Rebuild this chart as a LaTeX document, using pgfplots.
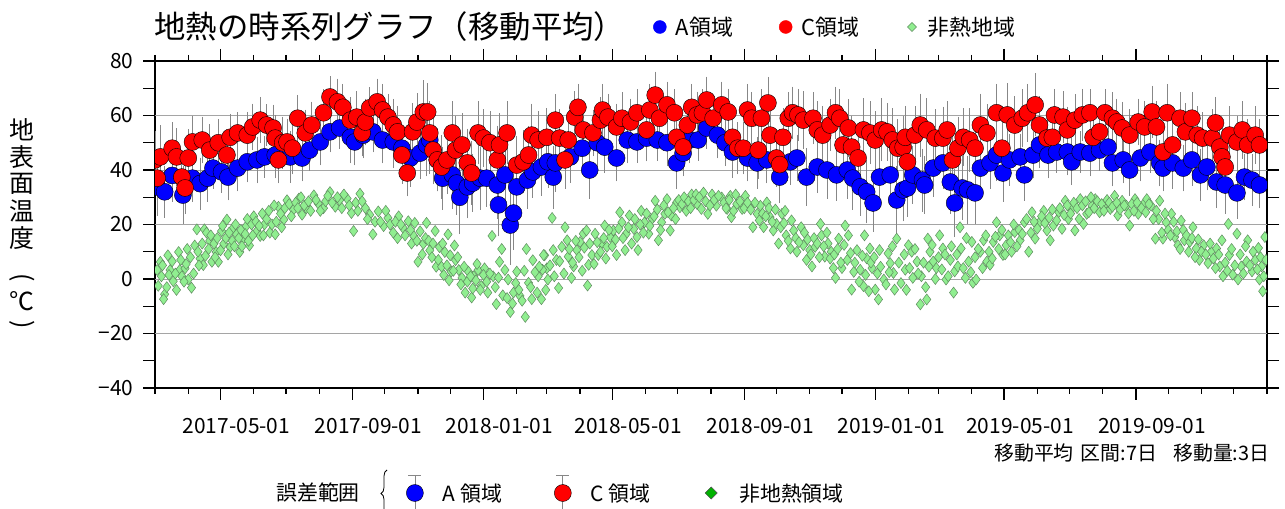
\documentclass[border=0pt]{standalone}
\usepackage{fontspec}
\setmainfont{Noto Sans CJK JP}
\usepackage{pgfplots}
\pgfplotsset{compat=1.18}
\usepackage{pgfplotstable}
\usetikzlibrary{decorations.pathreplacing}

\definecolor{ptBlue}{RGB}{0,0,255}
\definecolor{ptRed}{RGB}{255,0,0}
\definecolor{ptGreen}{RGB}{144,238,144}
\definecolor{ptGreenEdge}{RGB}{95,140,95}
\definecolor{barGray}{RGB}{135,135,135}
\definecolor{gridGray}{RGB}{165,165,165}
\newcommand\fs[1]{\fontsize{#1}{#1}\selectfont}

% d = days since 2017-03-01, v = temperature, e = error
\pgfplotstableread{
d v e
2 33.8 8
9 32 7
16 38 7
26 30.8 8
35 37 6
42 35 7
49 37 6
54 40.7 5
62 39.3 5
68 37.4 6
77 40.7 6
86 43 5
95 43.7 6
102 44.8 5
112 45.5 6
126 44.8 7
137 44.4 6
144 47.3 5
154 50.3 6
163 54 5
172 55.4 5
182 52 7
186 50.3 6
194 52.8 6
203 54 5
212 51 6
222 50.3 7
230 48 6
238 44.4 8
247 46.2 7
253 49.2 9
256 51 10
263 43.7 9
268 37 9
277 38.2 10
281 35.2 9
284 30 11
291 33.8 9
296 35.2 8
303 37 9
309 37 8
319 34.5 10
320 27.2 9
326 38.2 10
331 19.8 12
334 24.2 11
337 33.8 9
347 36.3 8
352 39.3 7
360 41.1 8
366 43 7
371 37.4 9
373 42.6 8
387 44.8 7
398 48 6
405 40 8
412 50 6
419 48.4 7
430 44.4 6
440 51 6
449 50.3 5
458 51.7 6
468 51 5
477 50 6
486 42.6 7
492 46.2 6
498 51 6
506 51 5
514 55.4 5
524 52.8 6
531 50 6
538 46.6 7
552 44.4 6
561 42.6 7
570 43.7 6
582 37.4 7
592 43 6
598 44.4 6
607 37.4 8
617 41.1 7
626 40 8
635 38.2 7
645 40 8
650 37 9
657 33.8 8
663 32 9
669 27.9 8
675 37.4 9
685 38.2 9
691 29 10
697 32.7 9
701 33.4 8
706 38.2 8
715 36.3 9
717 34.5 8
725 40.7 8
734 42.6 7
741 35.6 9
745 27.9 10
752 33.4 9
757 32.7 10
764 31.6 9
769 40.7 8
778 42.6 7
784 45.5 7
790 38.9 8
796 43.7 7
806 44.8 6
810 38.2 7
818 45.5 6
824 49.2 6
832 45.5 6
840 46.6 5
850 46.6 6
854 43 6
862 46.6 5
871 46.2 6
880 47.3 5
888 48.4 6
892 42.6 6
902 43.7 6
908 40 7
918 44.4 6
927 46.6 5
936 42.6 6
939 40.7 6
948 42.6 7
958 40.7 6
966 43.7 7
974 38.2 7
980 41.1 6
989 35.6 7
997 34.5 8
1008 31.6 7
1015 37.4 6
1022 36.3 7
1029 34.5 6
}\tblA

\pgfplotstableread{
d v e
0 43.7 8
2 37 6
5 44.8 9
16 48 7
20 44.8 8
25 37.4 7
28 33.4 7
31 44.4 8
35 50.3 7
44 51 6
51 47.3 7
59 50 6
67 45.5 6
70 52 6
77 53.6 5
86 52.8 6
91 55.8 6
98 58.3 6
104 56.5 5
110 55.4 6
112 51.7 6
115 43.7 6
119 50 7
123 50.3 6
128 48 7
133 59 6
140 53.6 6
146 56.5 6
157 61 6
163 66.8 5
170 65 6
175 63 6
182 58.3 6
188 59.4 7
193 53.6 6
196 57.6 6
200 62.8 5
207 65 6
212 62 7
217 59.4 6
222 56.5 7
226 54 7
230 45.5 8
235 38.9 6
240 54 8
244 57.6 8
250 61.3 9
254 61.3 8
256 53.6 9
259 47.3 10
263 43.7 9
267 41.1 9
272 43.7 10
277 53.6 9
280 47.3 10
286 49.2 9
291 42.6 10
295 38.9 9
301 53.6 9
306 51.7 8
312 50 9
319 43.7 10
321 49.2 9
328 53.6 9
337 41.8 8
343 43 9
348 45.5 8
351 52.8 9
357 51 8
365 52 8
373 58.3 7
377 51.7 8
382 43.7 8
385 51 7
391 59.4 7
394 63 6
399 54.7 7
408 53.6 6
415 58.3 6
417 62 7
422 59.4 6
430 55.8 6
435 59 7
443 57.6 6
449 61 6
458 54.7 6
461 62 7
466 67.5 6
470 59 6
477 63.9 6
484 61 6
486 52 7
492 48.4 7
496 56.5 6
500 63 6
505 60.2 6
510 61 6
514 65.7 6
520 59 6
528 63.9 6
534 61.3 6
538 52 7
543 48 7
548 48 7
552 62 7
556 59 7
562 47.3 8
565 59 8
571 64.6 7
573 52.8 8
579 44.4 8
582 42 8
585 52 8
590 59 7
594 61 7
599 60.2 7
604 58.3 8
613 59 7
617 54.7 8
622 52.8 8
629 56.5 7
634 61 7
638 59 8
641 49.2 8
646 55.4 8
649 48.4 9
655 44.4 9
660 54.7 9
666 53.6 9
671 51 8
677 54.7 9
682 54 8
687 51 9
692 48 8
697 48.4 9
699 52 9
701 43 8
708 52.8 8
713 56.5 9
719 54.7 9
727 51.7 8
734 51.7 9
738 54.7 8
743 43.7 9
748 48 9
753 52 8
759 51 9
764 48 8
769 56.5 9
775 53.6 8
784 61 8
789 48 8
794 60.2 9
801 56.5 8
808 59 8
813 61 8
820 63.9 9
824 56.5 8
831 51.7 7
836 52 7
838 60.2 7
846 59.4 7
850 54.7 6
857 58.3 7
864 60.2 7
871 61 6
874 52 6
880 54 7
885 61 6
892 59 7
896 57.6 6
901 55.4 7
908 52.8 7
916 57.6 6
922 55.8 7
929 61.3 7
933 55.8 7
939 46.6 7
943 61 8
948 49.2 7
955 59 7
960 54 8
966 59 7
971 52.8 8
976 51.7 7
985 51.7 8
988 57.3 7
992 48.4 8
994 44.8 8
997 41.1 8
1001 52.8 8
1008 50.3 7
1013 54.7 8
1018 49.2 7
1025 52.8 8
1029 49.2 7
}\tblC

\pgfplotstableread{
d v
5 6.3
2 3.3
6 1
9 -5.6
8 -7.4
12 8.7
14 3.3
17 -0.8
22 9.9
23 3.3
25 1
28 3.9
31 -0.2
30 11
34 -3.2
37 12.3
39 18.2
42 7.5
45 5.1
46 18.2
48 17
51 14
53 6.3
57 9.9
59 6.3
62 17.6
64 12.9
67 21.8
70 11.7
73 18.8
76 16.4
79 9.9
82 14.6
85 19.4
88 12.3
92 23
95 17.6
98 15.8
102 20
107 17
112 16.4
115 26.5
120 21.8
123 28.9
129 25.4
134 29.5
137 23.6
141 26
148 30.7
152 27.7
157 26
163 31.9
168 26.5
172 28.9
179 29.5
183 24.2
185 17.6
191 31.3
196 26
200 23.6
203 16.4
208 24.8
213 19.4
217 22.4
222 17
227 23
231 18.8
236 21.2
241 15.8
242 20.6
245 6.3
250 12.9
253 20.6
256 10.5
261 17.6
262 4.5
265 11.7
269 1.5
270 9.9
273 16.4
275 8.7
276 2.7
279 12.3
280 6.9
283 3.3
286 0.4
289 -5
292 2.7
295 -6.8
297 1
301 3.3
304 -2.6
307 3.9
310 -5
314 15.8
315 1
318 -9.2
321 6.3
323 11
326 3.3
329 -0.2
331 -12.1
334 -5
337 2.7
340 -6.2
345 -13.9
346 11
348 -1.4
351 -7.4
352 6.9
357 1
360 -7.4
363 8.7
365 3.9
370 22.4
382 19
362 8.8
361 3.4
366 -0.2
371 10.6
374 7
376 -3.3
379 11.8
384 14.2
385 8.2
388 0.4
390 4.6
393 10.6
396 13.6
399 16.6
402 17.8
404 5.2
403 -2.4
407 8.8
410 16.6
413 8.8
416 13
419 19.6
421 11.8
424 15.4
427 17.8
430 8.8
433 24.5
435 20.8
438 10.6
439 16.6
442 23.3
446 18.4
449 15.4
450 10.6
453 25
456 20.8
460 16.6
463 22
466 28.7
469 14.2
472 20.8
475 23.9
477 29.3
480 17.8
481 23.3
486 28.1
489 26.3
495 25
500 31
505 27.5
509 25.7
511 31.7
515 23.9
519 31
523 26.9
528 29.9
533 25.7
536 30.5
537 22.7
542 27.5
547 25.7
550 30.5
554 26.3
557 19
561 23.9
564 26.9
567 19
570 28.1
573 22.7
576 17.8
579 20.2
581 13
584 23.9
587 25
588 16
592 11.2
595 17.8
598 10
602 19
604 12.4
607 7
610 10.6
612 4.6
615 11.8
620 20.2
621 16
624 8.2
627 13
630 10
632 4
634 0.4
637 14.8
640 4
643 19.6
646 16
649 -3.9
651 2.6
654 10.6
657 3.4
660 -2.6
661 16
663 7.6
666 11.2
668 4
671 -3.9
674 -7.5
675 10.6
679 -0.2
683 9.4
685 5.8
688 2.2
689 -3.9
691 14.8
699 3.4
702 12.4
705 10
706 0.4
710 6.4
713 -9.3
714 1
719 -7.5
720 14.8
722 10
725 6.4
728 4
731 16
734 11.2
737 -0.2
741 7
744 -5
745 2.8
748 4.6
750 19
751 11.2
755 0.4
758 6.4
761 13.6
762 -1.4
765 -0.2
769 10
772 14.2
775 6.4
778 5.2
781 13.6
784 20.8
787 16
790 8.8
793 12.4
798 10
801 17.2
806 14.2
810 20.8
814 10
817 24.5
820 14.8
824 20.8
828 25
831 17.8
834 14.2
837 19.6
842 24.5
845 18.4
848 28.7
851 22
854 25.7
857 17.8
862 29.3
865 20.2
868 23.9
873 26.9
876 29.3
880 24.5
885 27.5
890 25.7
894 30.5
897 23.3
901 28.7
905 26.9
908 19.6
913 29.3
916 23.9
921 27.5
924 29.3
928 26.9
932 14.8
935 22
936 28.7
939 14.8
942 20.8
947 23.9
950 15.4
953 12.4
956 21.4
959 14.2
964 13.6
967 19
970 11.2
973 7
977 12.4
981 5.8
984 10
989 11.2
992 4.6
994 14.2
995 1
1000 20.2
1001 8.8
1004 1.6
1008 16.6
1009 -0.2
1012 4.6
1017 6.4
1018 14.2
1022 2.8
1025 7
1028 11.4
1029 -0.2
1032 -4.5
1031 4.6
1034 15.4
3 -2.5
7 5
11 -3
13 1.5
16 6.5
19 2
20 -4
24 7
27 -1
29 5.5
33 8
36 2
40 10
41 5
44 13
47 8.5
50 11
52 16
55 13
56 8
58 15
61 10.5
63 19.5
66 15
68 9
69 17
72 14
74 12
75 20
78 15
80 18
81 12
84 16.5
86 22
87 14
90 20
91 16
94 21
97 19.5
100 24
101 16
104 22
106 25
109 20
111 27
113 21
117 24
118 19
121 26
125 27.5
127 23
131 28
133 26
136 30
139 27
143 28.5
145 25
150 29
154 25
159 28.5
161 30.5
165 28
170 30
174 26
176 31
181 27
187 28
189 25
193 28.5
198 22
205 21
210 21
215 25
219 20
224 21
226 15
229 20
233 16
238 18
239 13
244 14
247 17.5
249 9
252 15
255 14
258 8
259 13
264 7
267 4.5
268 13
272 5
274 -0.5
278 3
282 8
285 -2
288 4.5
291 -1
294 1
296 -3.5
299 -0.5
300 5.5
303 -4
306 1.5
309 -1
312 2
317 -3
320 0.5
324 -6
328 -7
333 -9
336 -1.5
339 -4
342 -8
344 3
350 -3
354 2.5
356 -5
358 4.5
364 -4
368 5
372 1
377 6.5
381 2
386 11
389 6
392 14
395 8
398 3
400 11.5
405 13
409 5.5
412 13.5
415 10
418 15
420 7.5
423 18
426 12
429 14.5
432 18.5
436 15
441 19
444 13
447 22
452 20
455 17
458 24
461 19.5
465 23
468 25.5
471 18
474 27
478 24.5
483 26
485 22
488 29
491 27.5
493 30
497 28.5
499 26
502 29
504 31
507 30
513 28.5
517 27
521 29
525 30.5
530 28
532 26
535 29
539 25
541 31
545 28.5
549 26
552 28
555 25.5
559 28
563 21.5
566 24
569 23
572 26
575 21
578 25.5
583 19
586 20.5
590 14
593 21.5
597 15
600 13.5
605 17
608 14.5
611 9
614 15
617 13
619 8
623 12
626 17
629 7.5
633 9
636 11
639 6
642 12.5
645 7
648 9.5
652 6
656 -1
659 8.5
662 1.5
665 -4.5
667 6
670 8
673 2
676 4.5
681 -2
684 2.5
687 12
693 6
695 -1.5
698 9
700 -4
703 4
708 11
711 2
716 6
718 -3
721 4.5
724 12.5
727 0
730 8
733 3.5
736 9
739 1
742 12
747 9
753 4
756 15
760 2.5
764 8
767 11
771 4
774 16
777 10
780 7.5
783 15.5
786 11
789 18
792 9
795 16
797 13.5
800 20
803 12
805 18
808 16.5
812 22
816 17
819 21
822 18.5
826 23
829 20.5
833 22.5
836 25.5
840 21.5
843 26
847 23.5
850 27
853 24
856 28
859 26
861 22
864 27
867 28.5
870 24.5
872 30
875 26
878 28.5
882 27.5
884 25
887 29
889 28
892 26.5
896 28
899 25.5
903 27
907 24
910 27.5
912 25
915 28
919 26
923 24.5
926 27.5
930 22
933 25
938 17
941 24
944 18
946 16
949 21
952 17.5
955 11
958 18
961 16
963 10
966 15
969 8
972 14.5
975 10
979 9
983 13
986 7.5
988 4
991 9
997 6
999 3
1003 11
1006 5
1011 9
1014 2
1016 12
1020 5
1023 10
1027 3.5
1030 8
1033 1
1035 7
}\tblN

\begin{document}
\begin{tikzpicture}[x=1bp,y=1bp]
\useasboundingbox (0,0) rectangle (1285,509);

\node[anchor=west,font=\fs{31.5}] at (151,482) {地熱の時系列グラフ（移動平均）};
\foreach \c/\yy in {地/379,表/352,面/325,温/298,度/271,℃/208}
  \node[font=\fs{25}] at (22,\yy) {\c};
\node[font=\fs{25}, rotate=-90] at (22,231) {(};
\node[font=\fs{25}, rotate=-90] at (22,184) {)};

\begin{axis}[
  at={(155bp,121bp)}, anchor=south west,
  scale only axis, width=1112bp, height=327bp,
  xmin=0, xmax=1036, ymin=-40, ymax=80,
  axis line style={line width=2.5bp},
  tick align=outside,
  major tick length=12bp, minor tick length=6bp,
  tick style={black, line width=1.3bp},
  xtick={61,184,306,426,549,671,791,914},
  xticklabels={2017-05-01,2017-09-01,2018-01-01,2018-05-01,2018-09-01,2019-01-01,2019-05-01,2019-09-01},
  minor xtick={0,31,92,122,153,214,245,275,337,365,396,457,487,518,579,610,640,702,730,761,822,852,883,944,975,1005,1036},
  ytick={-40,-30,...,80},
  yticklabels={−40,,−20,,0,,20,,40,,60,,80},
  tick label style={font=\fs{21}},
  xticklabel style={xshift=16bp, yshift=-15bp},
  yticklabel style={xshift=-6bp},
  extra y ticks={-20,0,20,40,60},
  extra y tick labels={},
  extra y tick style={grid=major, major grid style={draw=gridGray, line width=0.9bp}, tick style={draw=none}},
  clip marker paths=true,
  legend columns=3,
  legend style={at={(0.4451,1.104)}, anchor=west, draw=none, fill=none,
    font=\fs{22}, /tikz/every even column/.append style={column sep=44bp}},
]
\addplot[forget plot, only marks, mark=none,
  error bars/.cd, y dir=both, y explicit,
  error bar style={draw=barGray, line width=0.7bp},
  error mark options={draw=barGray, mark size=7bp, line width=0.7bp}]
  table[x=d, y=v, y error=e] {\tblA};
\addplot[forget plot, only marks, mark=none,
  error bars/.cd, y dir=both, y explicit,
  error bar style={draw=barGray, line width=0.7bp},
  error mark options={draw=barGray, mark size=7bp, line width=0.7bp}]
  table[x=d, y=v, y error=e] {\tblC};

\addplot[only marks, mark=*, mark size=8.5bp,
  mark options={fill=ptBlue, draw=black, line width=0.4bp},
  legend image code/.code={\fill[ptBlue] (0,0) circle (6.5bp); \path[draw=none] (-6.5bp,0) -- (14bp,0);}]
  table[x=d, y=v] {\tblA};
\addlegendentry{A領域}
\addplot[only marks, mark=*, mark size=8.5bp,
  mark options={fill=ptRed, draw=black, line width=0.4bp},
  legend image code/.code={\fill[ptRed] (0,0) circle (6.5bp); \path[draw=none] (-6.5bp,0) -- (14bp,0);}]
  table[x=d, y=v] {\tblC};
\addlegendentry{C領域}
\addplot[only marks, mark=diamond*, mark size=5.5bp,
  mark options={fill=ptGreen, draw=ptGreenEdge, line width=0.5bp},
  legend image code/.code={\filldraw[fill=ptGreen, draw=ptGreenEdge, line width=0.5bp] (0,4.5bp) -- (4.5bp,0) -- (0,-4.5bp) -- (-4.5bp,0) -- cycle; \path[draw=none] (-6.5bp,0) -- (14bp,0);}]
  table[x=d, y=v] {\tblN};
\addlegendentry{非熱地域}
\end{axis}

\node[anchor=east,font=\fs{20}] at (1273,56) {移動平均\hspace{0.35em}区間:7日\hspace{0.8em}移動量:3日};

\node[font=\fs{21}] at (318,16) {誤差範囲};
\draw[decorate, decoration={brace, amplitude=6bp}, line width=0.8bp] (387,-8) -- (387,39);

\begin{axis}[
  hide axis, at={(0bp,0bp)}, anchor=south west,
  scale only axis, width=1285bp, height=509bp,
  xmin=0, xmax=1, ymin=0, ymax=1,
  legend columns=3,
  legend style={at={(0.3136,0.0314)}, anchor=west, draw=none, fill=none,
    font=\fs{21}, /tikz/every even column/.append style={column sep=50bp}},
]
\addlegendimage{legend image code/.code={
  \draw[barGray, line width=0.7bp] (0,-18bp) -- (0,18bp) (-6.5bp,18bp) -- (6.5bp,18bp);
  \filldraw[fill=ptBlue, draw=black, line width=0.4bp] (0,0) circle (8.5bp);
  \path[draw=none] (-8.5bp,0) -- (26bp,0);}}
\addlegendentry{A 領域}
\addlegendimage{legend image code/.code={
  \draw[barGray, line width=0.7bp] (0,-18bp) -- (0,18bp) (-6.5bp,18bp) -- (6.5bp,18bp);
  \filldraw[fill=ptRed, draw=black, line width=0.4bp] (0,0) circle (8.5bp);
  \path[draw=none] (-8.5bp,0) -- (26bp,0);}}
\addlegendentry{C 領域}
\addlegendimage{legend image code/.code={
  \filldraw[fill=green!70!black, draw=black!70, line width=0.5bp] (0,6bp) -- (6bp,0) -- (0,-6bp) -- (-6bp,0) -- cycle;
  \path[draw=none] (-8.5bp,0) -- (26bp,0);}}
\addlegendentry{非地熱領域}
\end{axis}
\end{tikzpicture}
\end{document}
